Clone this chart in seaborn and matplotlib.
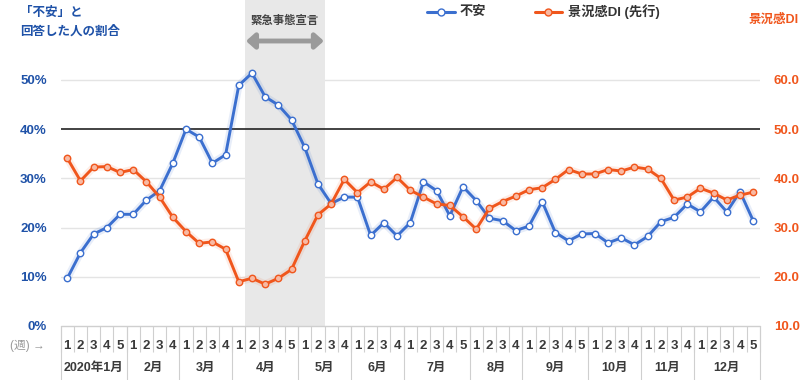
import pandas as pd
import matplotlib.pyplot as plt
import matplotlib.transforms as mtransforms
from matplotlib.lines import Line2D
import seaborn as sns

# Data (weekly, 2020)
months = ['2020年1月', '2月', '3月', '4月', '5月', '6月',
          '7月', '8月', '9月', '10月', '11月', '12月']
weeks_per_month = [5, 4, 4, 5, 4, 4, 5, 4, 5, 4, 4, 5]

# share of respondents answering "uneasy" (%)
unease_pct = [9.7, 14.9, 18.7, 20.0, 22.7, 22.7, 25.6, 27.5, 33.1, 40.0, 38.4, 33.1, 34.8,
              48.9, 51.4, 46.6, 44.9, 41.9, 36.3, 28.9, 24.9, 26.2, 26.2,
              18.4, 21.0, 18.3, 21.0, 29.3, 27.5, 22.4, 28.3, 25.5, 21.9,
              21.4, 19.4, 20.3, 25.3, 19.0, 17.3, 18.7, 18.8, 16.9, 17.9,
              16.5, 18.2, 21.2, 22.1, 24.8, 23.2, 26.2, 23.2, 27.3, 21.4]

# business sentiment DI (leading)
di_values = [44.1, 39.5, 42.3, 42.4, 41.2, 41.8, 39.3, 36.2, 32.1, 29.2, 26.8, 27.1, 25.6,
             19.0, 19.7, 18.5, 19.7, 21.5, 27.3, 32.6, 34.8, 39.8, 37.1,
             39.3, 37.8, 40.2, 37.6, 36.2, 34.8, 34.5, 32.2, 29.7, 33.9,
             35.3, 36.4, 37.7, 38.1, 39.8, 41.8, 40.9, 40.9, 41.8, 41.5,
             42.3, 41.9, 40.0, 35.6, 36.2, 38.0, 37.0, 35.6, 36.6, 37.2]

left_ticks = [0, 10, 20, 30, 40, 50]
right_ticks = [10, 20, 30, 40, 50, 60]
emergency_span = (13.5, 19.5)

week_labels = [str(w) for n in weeks_per_month for w in range(1, n + 1)]
df = pd.DataFrame({'week': range(len(week_labels)),
                   'unease': unease_pct,
                   'di': di_values})

sns.set_style('white')
plt.rcParams['font.family'] = ['Liberation Sans', 'Noto Sans CJK JP', 'DejaVu Sans']

BLUE = '#3b6fcf'
BLUE_TXT = '#1f52a8'
ORANGE = '#f0561c'
ORANGE_FACE = '#f8b9a3'
GRID = '#e4e4e4'
SEP = '#cfcfcf'
TXT = '#3a3a3a'

W, H = 800, 380
ax_left, ax_right, ax_bottom = 60.7, 759.8, 326
ymax = ax_bottom / 4.92

fig = plt.figure(figsize=(W / 100, H / 100), dpi=100)
ax = fig.add_axes([ax_left / W, (H - ax_bottom) / H, (ax_right - ax_left) / W, ax_bottom / H])
ax.set_xlim(-0.5, len(week_labels) - 0.5)
ax.set_ylim(0, ymax)
ax2 = ax.twinx()
ax2.set_ylim(10, 10 + ymax)
for a in (ax, ax2):
    for s in a.spines.values():
        s.set_visible(False)

# grid, reference line, emergency shading
for v in [10, 20, 30, 50]:
    ax.axhline(v, color=GRID, lw=1, zorder=0)
ax.axvspan(*emergency_span, color='#e8e8e8', lw=0, zorder=1)
ax.axhline(40, color='#222222', lw=1.2, zorder=2)
ax.axhline(0, color=SEP, lw=1, zorder=2, clip_on=False)

# series (soft glow underneath)
ax.plot(df['week'], df['unease'], color=BLUE, lw=5.5, alpha=0.12, zorder=3, solid_capstyle='round')
sns.lineplot(data=df, x='week', y='unease', ax=ax, color=BLUE, lw=2.1, marker='o',
             markersize=4.6, markerfacecolor='white', markeredgecolor=BLUE,
             markeredgewidth=1, zorder=4)
ax2.plot(df['week'], df['di'], color=ORANGE, lw=5.5, alpha=0.10, zorder=3, solid_capstyle='round')
sns.lineplot(data=df, x='week', y='di', ax=ax2, color=ORANGE, lw=2.1, marker='o',
             markersize=4.6, markerfacecolor=ORANGE_FACE, markeredgecolor=ORANGE,
             markeredgewidth=1, zorder=4)

# axes ticks
ax.set_xlabel('')
ax.set_ylabel('')
ax2.set_xlabel('')
ax2.set_ylabel('')
ax.set_yticks(left_ticks)
ax.set_yticklabels([f'{v}%' for v in left_ticks])
ax.tick_params(axis='y', length=0, pad=10, labelsize=9.5, labelcolor=BLUE_TXT)
ax2.set_yticks(right_ticks)
ax2.set_yticklabels([f'{v:.1f}' for v in right_ticks])
ax2.tick_params(axis='y', length=0, pad=10, labelsize=9.5, labelcolor=ORANGE)
for lbl in ax.get_yticklabels() + ax2.get_yticklabels():
    lbl.set_fontweight('bold')

ax.set_xticks(range(len(week_labels)))
ax.set_xticklabels(week_labels)
ax.tick_params(axis='x', length=0, pad=10, labelsize=9.5, labelcolor=TXT)
for lbl in ax.get_xticklabels():
    lbl.set_fontweight('bold')

# week / month table below the axis
trans = mtransforms.blended_transform_factory(ax.transData, ax.transAxes)
px = 1 / ax_bottom
week_bounds = [i - 0.5 for i in range(len(week_labels) + 1)]
ax.vlines(week_bounds, -26 * px, 0, transform=trans, colors=SEP, lw=0.8, clip_on=False)
month_bounds = [-0.5]
for n in weeks_per_month:
    month_bounds.append(month_bounds[-1] + n)
ax.vlines(month_bounds, -54 * px, 0, transform=trans, colors=SEP, lw=0.8, clip_on=False)
for name, start, n in zip(months, month_bounds[:-1], weeks_per_month):
    ax.text(start + n / 2, -42 * px, name, transform=trans, ha='center', va='center',
            fontsize=9, fontweight='bold', color=TXT)

fig.text(10 / W, 1 - 346 / H, '(週) →', fontsize=8.5, color='#999999', va='center')

# emergency declaration annotation
y_arrow = (ax_bottom - 41) / 4.92
ax.annotate('', xy=(emergency_span[1] - 0.05, y_arrow), xytext=(emergency_span[0] + 0.05, y_arrow),
            arrowprops=dict(arrowstyle='<|-|>,head_length=0.5,head_width=0.45',
                            color='#9a9a9a', lw=3.5, shrinkA=0, shrinkB=0), zorder=5)
ax.text(sum(emergency_span) / 2, (ax_bottom - 20) / 4.92, '緊急事態宣言', ha='center', va='center',
        fontsize=8.2, fontweight='bold', color='#444444', zorder=5)

# titles
fig.text(20 / W, 1 - 13 / H, '「不安」と', fontsize=9, fontweight='bold', color=BLUE_TXT, va='center')
fig.text(20 / W, 1 - 31 / H, '回答した人の割合', fontsize=9, fontweight='bold', color=BLUE_TXT, va='center')
fig.text(799 / W, 1 - 20 / H, '景況感DI', fontsize=9, fontweight='bold', color=ORANGE,
         ha='right', va='center')

# legend
ly = 1 - 12 / H
fig.add_artist(Line2D([427 / W, 455 / W], [ly, ly], transform=fig.transFigure, color=BLUE, lw=2.2))
fig.add_artist(Line2D([441 / W], [ly], transform=fig.transFigure, marker='o', markersize=5,
                      markerfacecolor='white', markeredgecolor=BLUE, markeredgewidth=1))
fig.text(460 / W, ly, '不安', fontsize=9.5, fontweight='bold', color='#333333', va='center')
fig.add_artist(Line2D([535 / W, 562 / W], [ly, ly], transform=fig.transFigure, color=ORANGE, lw=2.2))
fig.add_artist(Line2D([548 / W], [ly], transform=fig.transFigure, marker='o', markersize=5,
                      markerfacecolor=ORANGE_FACE, markeredgecolor=ORANGE, markeredgewidth=1))
fig.text(568 / W, ly, '景況感DI (先行)', fontsize=9.5, fontweight='bold', color='#333333', va='center')

fig.savefig('out.png', dpi=100)
